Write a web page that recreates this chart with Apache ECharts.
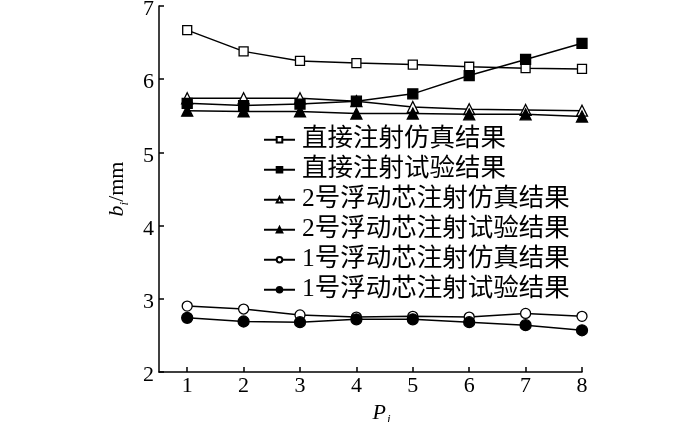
<!DOCTYPE html>
<html><head><meta charset="utf-8">
<script src="https://cdn.jsdelivr.net/npm/echarts@6/dist/echarts.min.js"></script>
<style>html,body{margin:0;padding:0;background:#fff}#c{width:700px;height:422px}</style>
</head><body><div id="c"></div>
<script>
const categories = [1, 2, 3, 4, 5, 6, 7, 8];
const seriesNames = ['直接注射仿真结果','直接注射试验结果','2号浮动芯注射仿真结果','2号浮动芯注射试验结果','1号浮动芯注射仿真结果','1号浮动芯注射试验结果'];
const directSim   = [6.67, 6.38, 6.25, 6.22, 6.20, 6.17, 6.15, 6.14];
const directExp   = [5.67, 5.64, 5.66, 5.70, 5.80, 6.05, 6.27, 6.49];
const core2Sim    = [5.74, 5.74, 5.74, 5.70, 5.62, 5.59, 5.58, 5.57];
const core2Exp    = [5.57, 5.56, 5.56, 5.53, 5.53, 5.52, 5.52, 5.49];
const core1Sim    = [2.90, 2.86, 2.78, 2.75, 2.76, 2.75, 2.80, 2.76];
const core1Exp    = [2.74, 2.69, 2.68, 2.72, 2.72, 2.68, 2.64, 2.57];
const yTicks = [2, 3, 4, 5, 6, 7];

const serif = '"Liberation Serif","DejaVu Serif",serif';
const cjk = '"Liberation Serif","Noto Sans CJK SC",serif';
const allData = [directSim, directExp, core2Sim, core2Exp, core1Sim, core1Exp];
const symbols = ['rect','rect','triangle','triangle','circle','circle'];
const filled = [false,true,false,true,false,true];
const sizes = [9, 10, 11, 11, 10, 11];

const chart = echarts.init(document.getElementById('c'));
chart.setOption({
  animation: false,
  grid: {left: 159, right: 118, top: 6, bottom: 50, outerBoundsMode: 'none', containLabel: false},
  xAxis: {
    type: 'value', min: 0.5, max: 8, interval: 1,
    axisLine: {lineStyle: {color: '#000', width: 1.5}},
    axisTick: {inside: true, length: 5, lineStyle: {color: '#000', width: 1.5},
      customValues: categories},
    axisLabel: {color: '#000', fontFamily: serif, fontSize: 22, margin: 3, customValues: categories},
    splitLine: {show: false},
    name: '{p|P}{s|i}', nameLocation: 'middle', nameGap: 27,
    nameTextStyle: {rich: {
      p: {fontFamily: serif, fontStyle: 'italic', fontSize: 22, color: '#000', padding: [0, 0, 0, 22]},
      s: {fontFamily: serif, fontStyle: 'italic', fontSize: 13, color: '#000', padding: [14, 0, 0, 1]}
    }}
  },
  yAxis: {
    type: 'value', min: 2, max: 7, interval: 1,
    axisLine: {show: true, lineStyle: {color: '#000', width: 1.5}},
    axisTick: {show: true, inside: true, length: 5, lineStyle: {color: '#000', width: 1.5}},
    axisLabel: {color: '#000', margin: 5,
      formatter: v => yTicks.includes(v) ? '{a|' + v + '}' : '',
      rich: {a: {fontFamily: serif, fontSize: 22, color: '#000', padding: [7, 0, 0, 0]}}},
    splitLine: {show: false},
    name: '{b|b}{s|i}{m|/mm}', nameLocation: 'middle', nameGap: 28, nameRotate: 90,
    nameTextStyle: {rich: {
      b: {fontFamily: serif, fontStyle: 'italic', fontSize: 22, color: '#000'},
      s: {fontFamily: serif, fontStyle: 'italic', fontSize: 13, color: '#000', padding: [14, 0, 0, 0]},
      m: {fontFamily: serif, fontSize: 22, color: '#000'}
    }}
  },
  legend: {
    orient: 'vertical', left: 263, top: 127, itemGap: 4.5, padding: 0,
    itemWidth: 31, itemHeight: 7,
    textStyle: {fontFamily: cjk, fontSize: 25.5, color: '#000', padding: [0,0,0,2]},
    data: seriesNames
  },
  series: allData.map((d, i) => ({
    name: seriesNames[i], type: 'line',
    data: categories.map((c, j) => [c, d[j]]),
    symbol: symbols[i], symbolSize: sizes[i], showSymbol: true,
    lineStyle: {color: '#000', width: 1.5},
    itemStyle: {color: filled[i] ? '#000' : '#fff', borderColor: '#000', borderWidth: 1.3},
    z: filled[i] ? 3 : 2
  }))
});
</script></body></html>
